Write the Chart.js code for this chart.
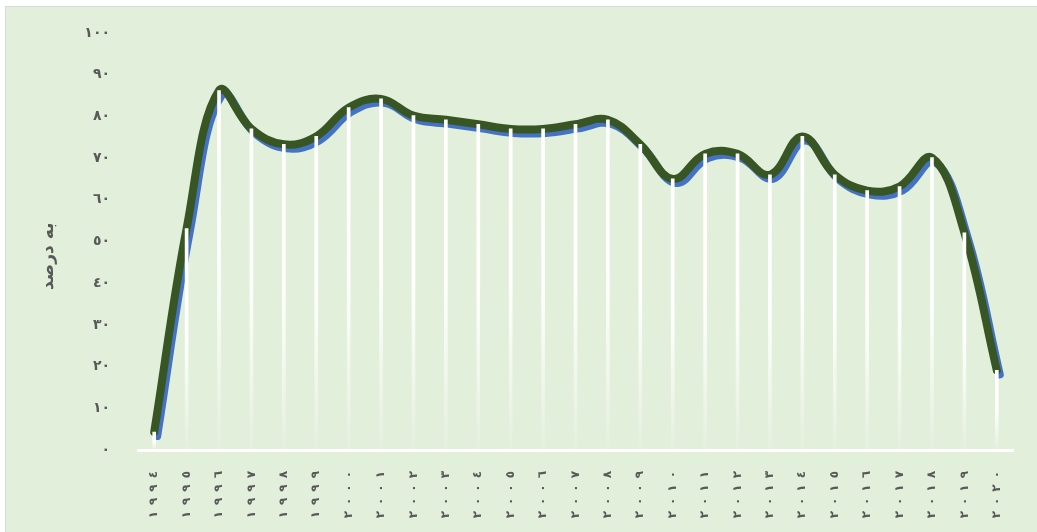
<!DOCTYPE html>
<html><head><meta charset="utf-8">
<script src="https://cdn.jsdelivr.net/npm/chart.js@4/dist/chart.umd.min.js"></script>
<style>
html,body{margin:0;padding:0;background:#fff;width:1037px;height:532px;overflow:hidden}
#frame{position:absolute;left:5px;top:6px;width:1040px;height:540px;background:#E2EFDA;border:1px solid #D9D9D9;box-sizing:border-box}
#wrap{position:absolute;left:0;top:0;width:1037px;height:532px}
</style></head><body>
<div id="frame"></div>
<div id="wrap"><canvas id="c" width="1037" height="532"></canvas></div>
<script>
const years = ['١٩٩٤','١٩٩٥','١٩٩٦','١٩٩٧','١٩٩٨','١٩٩٩','٢٠٠٠','٢٠٠١','٢٠٠٢','٢٠٠٣','٢٠٠٤','٢٠٠٥','٢٠٠٦','٢٠٠٧','٢٠٠٨','٢٠٠٩','٢٠١٠','٢٠١١','٢٠١٢','٢٠١٣','٢٠١٤','٢٠١٥','٢٠١٦','٢٠١٧','٢٠١٨','٢٠١٩','٢٠٢٠'];
const values = [4.3, 53.1, 86.2, 77.0, 73.3, 75.2, 82.1, 84.2, 80.2, 79.2, 78.1, 77.0, 77.0, 78.1, 79.2, 73.3, 65.0, 71.0, 71.0, 66.0, 75.2, 66.0, 62.2, 63.2, 70.1, 52.1, 19.1];
const yTickLabels = ['٠','١٠','٢٠','٣٠','٤٠','٥٠','٦٠','٧٠','٨٠','٩٠','١٠٠'];
const yTitle = 'به درصد';

// spread digits apart (LRM keeps the visual digit order left-to-right)
const spaced = (s) => s.split('').join('\u200E\u2002\u200E');

const shadowPlugin = {
  id: 'shadow',
  beforeDatasetDraw(chart, args) {
    if (args.index === 0) {
      const c = chart.ctx; c.save();
      c.shadowColor = '#4472C4'; c.shadowOffsetX = 3; c.shadowOffsetY = 4; c.shadowBlur = 0;
    }
  },
  afterDatasetDraw(chart, args) { if (args.index === 0) chart.ctx.restore(); }
};

function dropGradient(ctx) {
  const chart = ctx.chart; const area = chart.chartArea;
  if (!area || ctx.parsed === undefined) return '#fff';
  const yTop = chart.scales.y.getPixelForValue(ctx.parsed.y);
  const yBot = chart.scales.y.getPixelForValue(0);
  const g = chart.ctx.createLinearGradient(0, yTop, 0, yBot);
  g.addColorStop(0, 'rgba(255,255,255,1)');
  g.addColorStop(0.5, 'rgba(255,255,255,0.95)');
  g.addColorStop(1, 'rgba(255,255,255,0.1)');
  return g;
}

const grey = '#595959';
new Chart(document.getElementById('c'), {
  type: 'bar',
  data: {
    labels: years,
    datasets: [
      { type: 'line', data: values, borderColor: '#375623', borderWidth: 8, tension: 0.4,
        pointRadius: 0, borderCapStyle: 'round', borderJoinStyle: 'round', fill: false, order: 2 },
      { type: 'bar', data: values, backgroundColor: dropGradient, barThickness: 3, order: 1 }
    ]
  },
  options: {
    responsive: false, animation: false, devicePixelRatio: 1,
    layout: { padding: { top: 33, right: 24, left: 0, bottom: 0 } },
    plugins: { legend: { display: false }, tooltip: { enabled: false } },
    scales: {
      x: {
        offset: true,
        grid: { display: false },
        border: { color: '#FFFFFF', width: 3 },
        ticks: { color: grey, font: { family: 'DejaVu Sans', weight: 'bold', size: 12 },
                 minRotation: 90, maxRotation: 90, autoSkip: false, padding: 13,
                 callback: (v, i) => spaced(years[i]) },
        afterFit(s) { s.height = 82; }
      },
      y: {
        min: 0, max: 100,
        grid: { display: false },
        border: { display: false },
        ticks: { stepSize: 10, color: grey, padding: 20,
                 font: { family: 'DejaVu Sans', weight: 'bold', size: 14 },
                 callback: (v) => yTickLabels[Math.round(v / 10)] },
        title: { display: true, text: yTitle + '     ', color: grey, padding: { top: 38, bottom: 0 },
                 font: { family: 'DejaVu Sans', weight: 'bold', size: 17 } },
        afterFit(s) { s.width = 138; }
      }
    }
  },
  plugins: [shadowPlugin]
});
</script>
</body></html>
